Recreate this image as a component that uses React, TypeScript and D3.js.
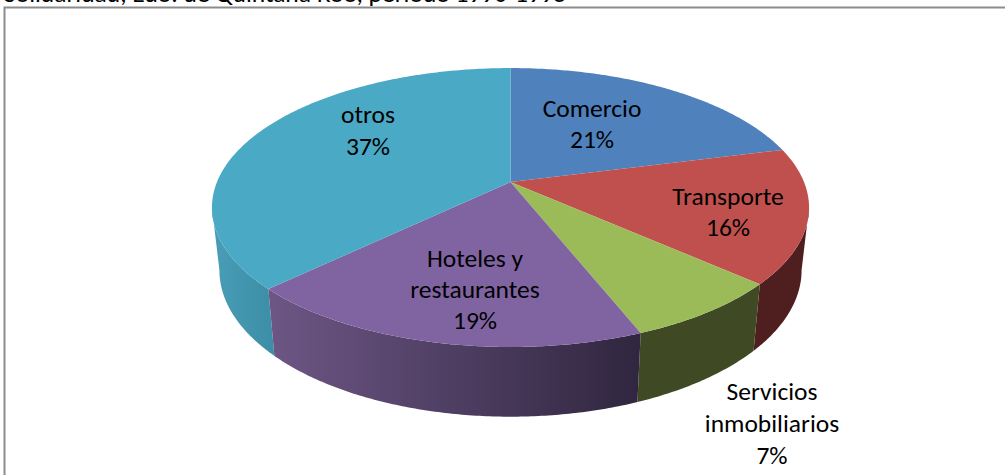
import React from "react";
import * as d3 from "d3";

const categories = ["Comercio", "Transporte", "Servicios inmobiliarios", "Hoteles y restaurantes", "otros"];
const values = [21, 15.6, 7.4, 18.8, 37.2];
const topColors = ["#4f81bd", "#c0504d", "#9bbb59", "#8064a2", "#4aa9c5"];
const wallStart = ["#4e1f1e", "#4e1f1e", "#3f4a25", "#6d5685", "#4a9db6"];
const wallEnd = ["#4e1f1e", "#4e1f1e", "#3f4a25", "#30263f", "#3c8ea7"];
const labelLines = [["Comercio", "21%"], ["Transporte", "16%"], ["Servicios", "inmobiliarios", "7%"], ["Hoteles y", "restaurantes", "19%"], ["otros", "37%"]];
const labelX = [592, 728, 772, 475, 368];
const labelY = [111, 199, 394, 261, 117];
const labelStep = [31, 31, 32, 31, 32];
const titleText = "Solidaridad, Edo. de Quintana Roo, período 1990-1995";

const W = 1005;
const H = 475;
const FONT = "Carlito, Calibri, Lato, 'Open Sans', sans-serif";

// Perspective projection of a tilted unit circle
const cx = 510.5;
const cy = 182;
const a = 293.5;
const b = 134.8;
const k = 0.183;
const baseScale = 0.975;
const TAU = Math.PI * 2;
const wallFrom = Math.acos(-k);
const wallTo = TAU - wallFrom;

function project(theta: number): [number, number] {
  const X = Math.sin(theta);
  const Y = -Math.cos(theta);
  const w = 1 - k * Y;
  return [cx + (a * X) / w, cy + (b * Y) / w];
}
function projectBase(theta: number): [number, number] {
  const [x, y] = project(theta);
  return [cx + (x - cx) * baseScale, y + 66.5 + 0.05 * (y - 283)];
}
function samples(s: number, e: number): number[] {
  const n = Math.max(2, Math.ceil((e - s) / 0.01));
  return d3.range(n + 1).map((i) => s + ((e - s) * i) / n);
}

const pieGen = d3.pie<number>().sort(null).startAngle(0).endAngle(TAU);
const line = d3.line();

export default function App() {
  const arcs = pieGen(values);
  const wallOrder = [4, 0, 1, 2, 3];
  return (
    <svg width={W} height={H} style={{ position: "absolute", left: 0, top: 0, background: "#fff" }} fontFamily={FONT}>
      <defs>
        {arcs.map((_, i) => (
          <linearGradient key={i} id={`wall${i}`} x1="0" x2="1" y1="0" y2="0">
            <stop offset="0" stopColor={wallStart[i]} />
            <stop offset="1" stopColor={wallEnd[i]} />
          </linearGradient>
        ))}
      </defs>
      <text x={4} y={1.5} fontSize={25.5} fill="#000">{titleText}</text>
      <path d={`M4.5,${H}V7.5H${W}`} fill="none" stroke="#8c8c8c" strokeWidth={2} />
      {wallOrder.map((i) => {
        const s = Math.max(arcs[i].startAngle, wallFrom);
        const e = Math.min(arcs[i].endAngle, wallTo);
        if (e <= s) return null;
        const t = samples(s, e);
        const pts = [...t.map((x) => project(x)), ...t.slice().reverse().map(projectBase)];
        return <path key={categories[i]} d={line(pts) + "Z"} fill={`url(#wall${i})`} />;
      })}
      {arcs.map((d, i) => {
        const pts: [number, number][] = [[cx, cy], ...samples(d.startAngle, d.endAngle).map((x) => project(x))];
        return <path key={categories[i]} d={line(pts) + "Z"} fill={topColors[i]} />;
      })}
      {labelLines.map((lines, i) =>
        lines.map((t, j) => (
          <text key={t} x={labelX[i]} y={labelY[i] + j * labelStep[i]} fontSize={25.5} fill="#000" textAnchor="middle" dominantBaseline="middle">
            {t}
          </text>
        ))
      )}
    </svg>
  );
}
